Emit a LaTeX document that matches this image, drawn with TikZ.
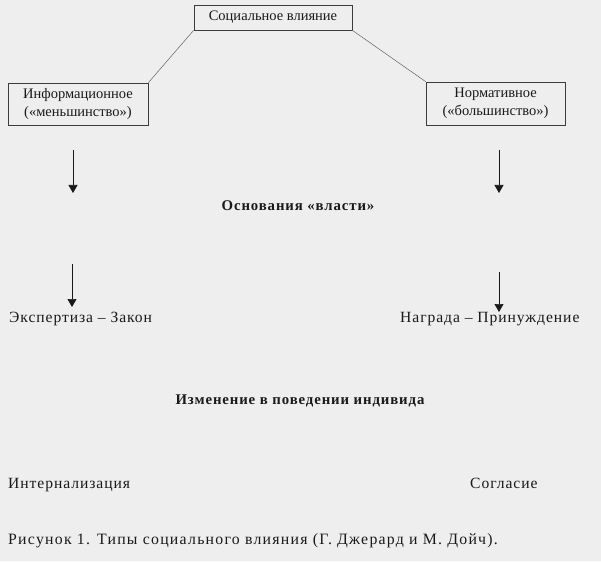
\documentclass[tikz,border=0pt]{standalone}
\usepackage{fontspec}
\setmainfont{Liberation Serif}
\newfontfamily\boxfont{Liberation Serif}
\newfontfamily\spfont[LetterSpace=6]{Liberation Serif}
\newfontfamily\capfont[LetterSpace=8]{Liberation Serif}
\newfontfamily\spbold[LetterSpace=6]{Liberation Serif}
\usetikzlibrary{arrows.meta}
\definecolor{paper}{RGB}{238,238,238}
\definecolor{ink}{RGB}{25,25,25}
\definecolor{frame}{RGB}{60,60,60}
\tikzset{
  box/.style={draw=frame, line width=0.8pt, inner sep=0pt, font=\boxfont\fontsize{14.5}{18}\selectfont, text=ink, align=center},
  link/.style={draw=frame!80, line width=0.5pt},
  down/.style={draw=ink, line width=0.7pt, -{Triangle[width=9pt,length=8pt]}},
  plain/.style={inner sep=0pt, text=ink, anchor=base west, font=\spfont\fontsize{15.6}{18}\selectfont},
  captext/.style={inner sep=0pt, text=ink, anchor=base west, font=\capfont\fontsize{15.8}{18}\selectfont},
  head/.style={inner sep=0pt, text=ink, font=\spbold\bfseries\fontsize{14.8}{18}\selectfont}
}
\begin{document}
\begin{tikzpicture}[x=1pt,y=-1pt]
\fill[paper] (0,0) rectangle (601,561);
\useasboundingbox (0,0) rectangle (601,561);
\node[box, minimum width=158pt, minimum height=25pt] (top) at (273,17.5) {Социальное влияние};
\node[box, minimum width=140pt, minimum height=42pt] (left) at (78,104) {Информационное\\(«меньшинство»)};
\node[box, minimum width=139pt, minimum height=43pt] (right) at (495.5,103.5) {Нормативное\\(«большинство»)};
\draw[link] (top.south west) -- (left.north east);
\draw[link] (top.south east) -- (right.north west);
\coordinate (la1) at (73,150); \coordinate (lb1) at (73,193);
\coordinate (ra1) at (499,150); \coordinate (rb1) at (499,193);
\coordinate (la2) at (72,264); \coordinate (lb2) at (72,307);
\coordinate (ra2) at (499,272); \coordinate (rb2) at (499,312);
\draw[down] (la1) -- (lb1);
\draw[down] (ra1) -- (rb1);
\node[head] (osn) at (298,206) {Основания «власти»};
\node[plain] (exp) at (9,322) {Экспертиза – Закон};
\node[plain] (nag) at (400,322) {Награда – Принуждение};
\draw[down] (la2) -- (lb2);
\draw[down] (ra2) -- (rb2);
\node[head] (izm) at (300,401) {Изменение в поведении индивида};
\node[plain] (int) at (8,488) {Интернализация};
\node[plain] (sog) at (470,488) {Согласие};
\node[captext] (cap) at (8,544) {Рисунок 1. Типы социального влияния (Г. Джерард и М. Дойч).};
\end{tikzpicture}
\end{document}
